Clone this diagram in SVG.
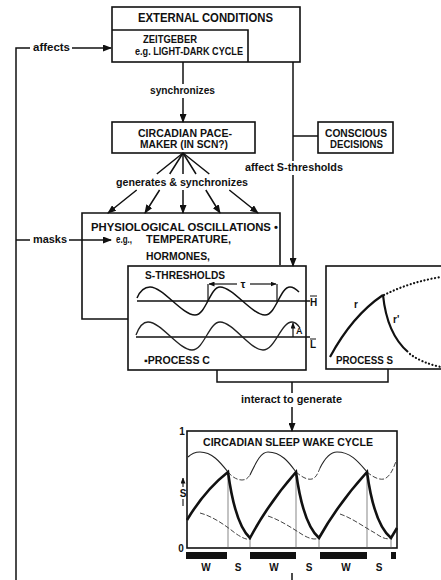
<svg xmlns="http://www.w3.org/2000/svg" width="441" height="580" viewBox="0 0 441 580">
<style>
text{font-family:"Liberation Sans",Arial,sans-serif;font-size:10px;font-weight:bold;fill:#111}
.box{fill:none;stroke:#111;stroke-width:1.6}
.ln{fill:none;stroke:#111;stroke-width:1.5}
.big{font-size:12px}
.thin{fill:none;stroke:#222;stroke-width:1.1}
.dash{fill:none;stroke:#444;stroke-width:1;stroke-dasharray:5 2}
.saw{fill:none;stroke:#111;stroke-width:2.6;stroke-linejoin:miter}
.dot{fill:none;stroke:#111;stroke-width:2.2;stroke-linecap:round;stroke-dasharray:0.1 3.5}
.vt{stroke:#555;stroke-width:0.7}
</style>
<defs>
<marker id="ah" markerUnits="userSpaceOnUse" markerWidth="9" markerHeight="7" refX="8" refY="3.5" orient="auto"><path d="M0,0 L9,3.5 L0,7 z" fill="#111"/></marker>
<marker id="as" markerUnits="userSpaceOnUse" markerWidth="6" markerHeight="5" refX="5.5" refY="2.5" orient="auto"><path d="M0,0 L6,2.5 L0,5 z" fill="#111"/></marker>
</defs>

<g id="connectors">
<path class="ln" d="M30,48 H16 V580"/>
<path class="ln" d="M72,48 H111" marker-end="url(#ah)"/>
<path class="ln" d="M16,240 H30"/>
<path class="ln" d="M69,240 H111" marker-end="url(#ah)"/>
<path class="ln" d="M183,62 V84"/>
<path class="ln" d="M183,98 V122" marker-end="url(#ah)"/>
<path class="ln" d="M293,62 V161"/>
<path class="ln" d="M293,175 V266" marker-end="url(#ah)"/>
<path class="ln" d="M293,136 H318"/>
<path class="ln" d="M183,153 L156.8,174 M136.7,190 L108,213" marker-end="url(#ah)"/>
<path class="ln" d="M183,153 L169.7,174 M159.6,190 L145,213" marker-end="url(#ah)"/>
<path class="ln" d="M183,153 L183,174 M183,190 L183,213" marker-end="url(#ah)"/>
<path class="ln" d="M183,153 L196,174 M205.8,190 L220,213" marker-end="url(#ah)"/>
<path class="ln" d="M183,153 L209.3,174 M229.3,190 L258,213" marker-end="url(#ah)"/>
<path class="ln" d="M217,370 V382 H388 V369"/>
<path class="ln" d="M292,382 V393"/>
<path class="ln" d="M292,407 V431" marker-end="url(#ah)"/>
<path class="ln" d="M292,573 V580"/>
</g>

<g id="external-conditions">
<rect class="box" x="112" y="7" width="188" height="55"/>
<path class="box" d="M112,30 H248 V62"/>
<text class="big" x="138" y="22" textLength="135" lengthAdjust="spacingAndGlyphs">EXTERNAL CONDITIONS</text>
<text x="143" y="43" textLength="54" lengthAdjust="spacingAndGlyphs">ZEITGEBER</text>
<text x="135" y="55" textLength="108" lengthAdjust="spacingAndGlyphs">e.g. LIGHT-DARK CYCLE</text>
</g>

<g id="labels">
<text x="33" y="51" textLength="37" lengthAdjust="spacingAndGlyphs">affects</text>
<text x="150" y="94" textLength="65" lengthAdjust="spacingAndGlyphs">synchronizes</text>
<text x="245" y="171" textLength="98" lengthAdjust="spacingAndGlyphs">affect S-thresholds</text>
<text x="116" y="186" textLength="132" lengthAdjust="spacingAndGlyphs">generates &amp; synchronizes</text>
<text x="33" y="243" textLength="34" lengthAdjust="spacingAndGlyphs">masks</text>
<text x="241" y="403" textLength="101" lengthAdjust="spacingAndGlyphs">interact to generate</text>
</g>

<g id="pacemaker">
<rect class="box" x="112" y="122" width="143" height="31"/>
<text x="138" y="137" textLength="94" lengthAdjust="spacingAndGlyphs">CIRCADIAN PACE-</text>
<text x="140" y="148" textLength="88" lengthAdjust="spacingAndGlyphs">MAKER (IN SCN?)</text>
</g>

<g id="conscious-decisions">
<rect class="box" x="318" y="122" width="75" height="31"/>
<text x="325" y="137" textLength="62" lengthAdjust="spacingAndGlyphs">CONSCIOUS</text>
<text x="330" y="148" textLength="53" lengthAdjust="spacingAndGlyphs">DECISIONS</text>
</g>

<g id="physiological-oscillations">
<path class="box" d="M280,265 V213 H82 V319 H128"/>
<text x="91" y="231" style="font-size:11.5px" textLength="187" lengthAdjust="spacingAndGlyphs">PHYSIOLOGICAL OSCILLATIONS •</text>
<text x="116" y="243" textLength="16" lengthAdjust="spacingAndGlyphs">e.g.,</text>
<text x="146" y="243" style="font-size:10.5px" textLength="85" lengthAdjust="spacingAndGlyphs">TEMPERATURE,</text>
<text x="146" y="260" style="font-size:10.5px" textLength="64" lengthAdjust="spacingAndGlyphs">HORMONES,</text>
</g>

<g id="process-c">
<rect class="box" x="128" y="266" width="178" height="104"/>
<text x="145" y="279" style="font-size:10.5px" textLength="80" lengthAdjust="spacingAndGlyphs">S-THRESHOLDS</text>
<path class="ln" d="M137,301 H310"/>
<path class="ln" d="M136,337 H310"/>
<path class="ln" d="M137,298 C140,291 144,287 150,287 C163,287 182,315 195,315 C206,315 210,287 220,287 C233,287 252,315 265,315 C276,315 280,287 290,287 C294,287 297,290 299,292"/>
<path class="thin" style="stroke-width:1.3" d="M136,335 C139,327 143,322 148,322 C161,322 179,350 192,350 C204,350 209,322 220,322 C233,322 250,350 263,350 C275,350 281,322 292,322 C296,322 298,325 300,328"/>
<path class="ln" style="stroke-width:1.2" d="M208,284 V301 M277,284 V301"/>
<path class="ln" style="stroke-width:1.2" d="M237,284 H209" marker-end="url(#as)"/>
<path class="ln" style="stroke-width:1.2" d="M250,284 H276" marker-end="url(#as)"/>
<text x="243" y="288" text-anchor="middle" style="font-size:11px">τ</text>
<path class="ln" style="stroke-width:1.2" d="M293,337 V323" marker-end="url(#as)"/>
<text x="296" y="334" style="font-size:9px">A</text>
<text x="310" y="306">H</text>
<path class="ln" style="stroke-width:1" d="M310,296 H317"/>
<text x="310" y="348">L</text>
<path class="ln" style="stroke-width:1" d="M310,339 H316"/>
<text x="144" y="364" textLength="66" lengthAdjust="spacingAndGlyphs">▪PROCESS C</text>
</g>

<g id="process-s">
<rect class="box" x="326" y="266" width="120" height="103"/>
<path class="saw" style="stroke-width:2.2" d="M330,357 Q352,316 383,295"/>
<path class="saw" style="stroke-width:2.2" d="M383,295 Q387,334 408,352"/>
<path class="dot" d="M384,295 Q410,282 441,277"/>
<path class="dot" d="M410,354 Q422,363 441,367"/>
<text x="354" y="308">r</text>
<text x="393" y="323">r'</text>
<text x="336" y="364" textLength="57" lengthAdjust="spacingAndGlyphs">PROCESS S</text>
</g>

<g id="sleep-wake-cycle">
<rect class="box" x="187" y="431" width="210" height="117"/>
<text x="203" y="446" textLength="170" lengthAdjust="spacingAndGlyphs">CIRCADIAN SLEEP WAKE CYCLE</text>
<text x="182" y="435" text-anchor="middle">1</text>
<text x="181" y="552" text-anchor="middle">0</text>
<path class="ln" style="stroke-width:1.1" d="M183,487 V478" marker-end="url(#as)"/>
<text x="183" y="497" text-anchor="middle">S</text>
<path class="ln" style="stroke-width:1.1" d="M183,499 V506"/>
<path class="vt" d="M228,472 V548 M250,538 V548 M296,472 V548 M319,538 V548 M367,472 V548 M391,538 V548"/>
<path class="thin" d="M188,457 C192,453 196,452 200,452 C212,452 220,462 228,472"/>
<path class="dash" d="M228,472 C233,478 238,480 242,480 C246,480 248,478 250,475"/>
<path class="thin" d="M250,475 C255,465 260,452 268,452 C282,452 290,464 296,472"/>
<path class="dash" d="M296,472 C303,478 308,480 312,479 C316,478 318,473 320,468"/>
<path class="thin" d="M320,468 C325,458 330,452 337,452 C352,452 360,464 367,472"/>
<path class="dash" d="M367,472 C374,478 380,480 384,479 C390,477 394,468 397,458"/>
<path class="dash" d="M200,513 C212,516 225,525 235,533 C242,538 247,540 250,539"/>
<path class="dash" d="M268,516 C280,520 292,528 303,535 C310,539 315,540 319,538"/>
<path class="dash" d="M340,514 C352,518 364,527 375,533 C382,538 387,540 391,538"/>
<path class="saw" d="M187,520 Q205,490 228,472 Q235,524 250,538 Q268,504 296,472 Q303,524 319,538 Q338,504 367,472 Q374,524 391,538 L397,528"/>
<rect x="186" y="552" width="41" height="7" fill="#111"/>
<rect x="250" y="552" width="46" height="7" fill="#111"/>
<rect x="320" y="552" width="47" height="7" fill="#111"/>
<rect x="391" y="552" width="5" height="7" fill="#111"/>
<text x="206" y="571" text-anchor="middle">W</text>
<text x="238" y="571" text-anchor="middle">S</text>
<text x="274" y="571" text-anchor="middle">W</text>
<text x="309" y="571" text-anchor="middle">S</text>
<text x="346" y="571" text-anchor="middle">W</text>
<text x="379" y="571" text-anchor="middle">S</text>
</g>
</svg>
